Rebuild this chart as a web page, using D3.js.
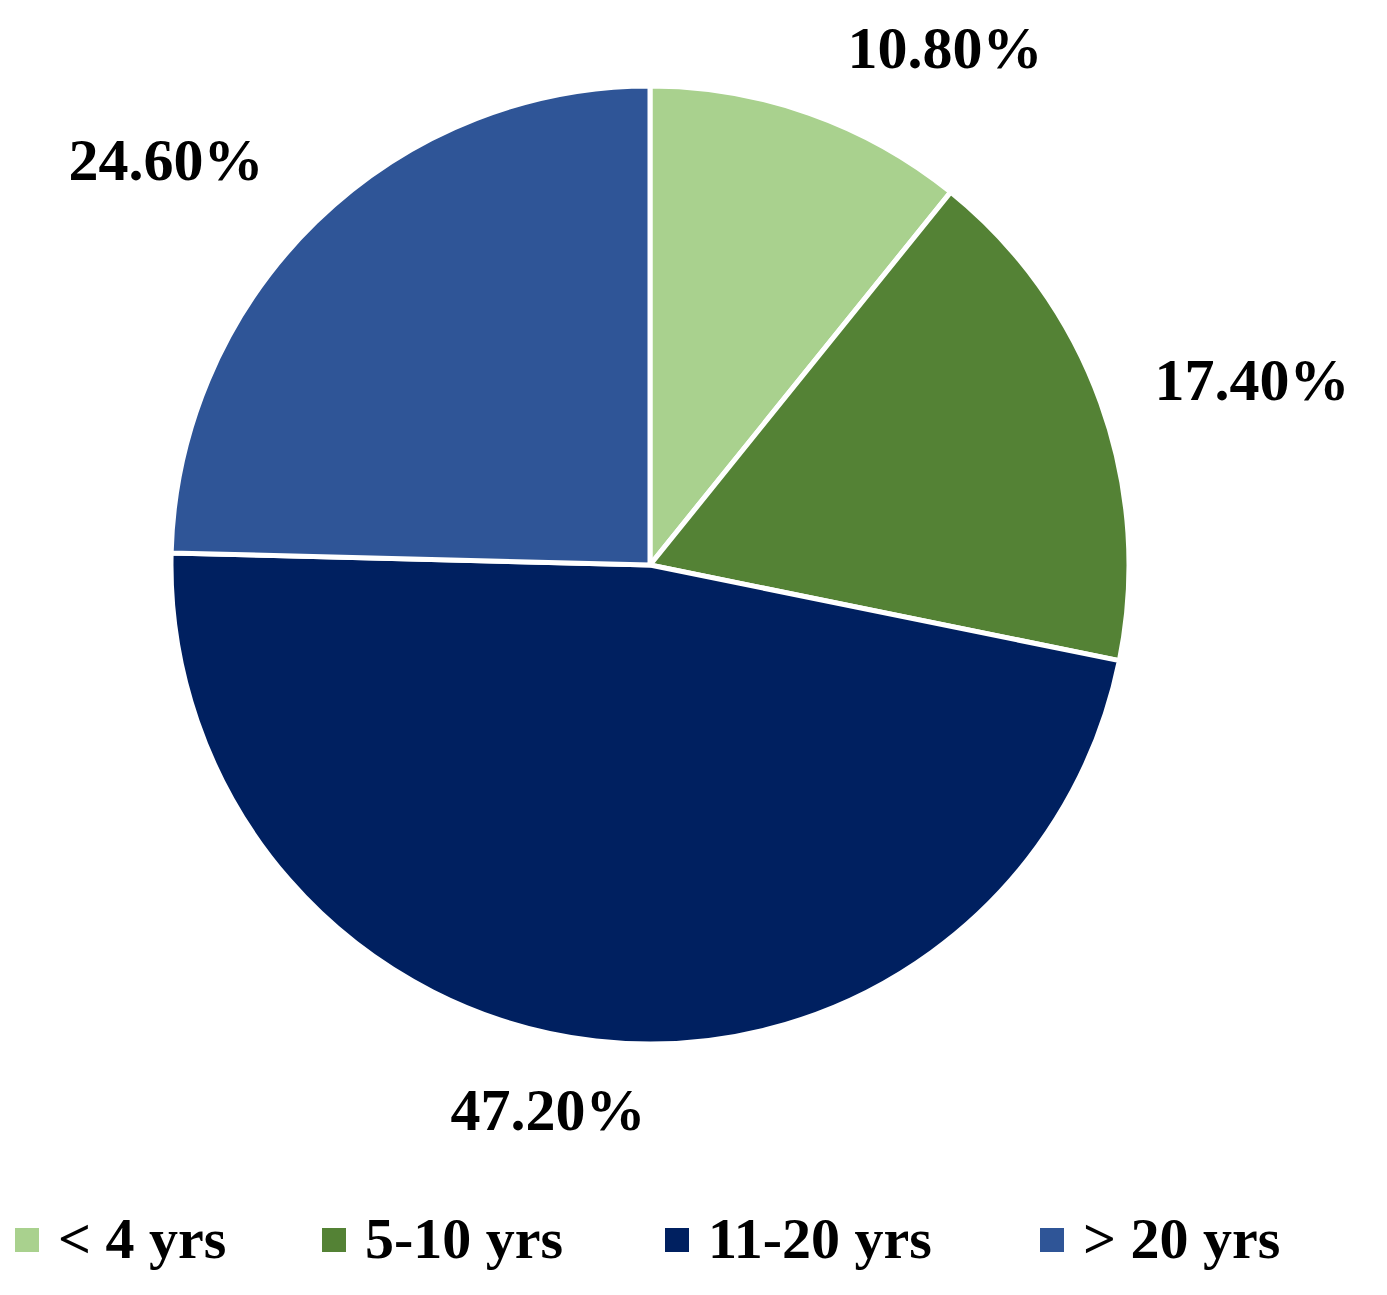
<!DOCTYPE html>
<html><head><meta charset="utf-8">
<script src="https://cdn.jsdelivr.net/npm/d3@7"></script>
<style>body{margin:0;background:#fff}</style></head>
<body><svg id="c" width="1387" height="1295"></svg>
<script>
const categories = ["< 4 yrs", "5-10 yrs", "11-20 yrs", "> 20 yrs"];
const values = [10.8, 17.4, 47.2, 24.6];
const labels = ["10.80%", "17.40%", "47.20%", "24.60%"];
const colors = ["#a9d18e", "#548235", "#002060", "#2f5597"];
// label anchor positions (layout)
const labelPos = [[945,68],[1252,400],[548,1130],[166,180]];
const legendX = [15, 322, 665, 1040];

const svg = d3.select("#c");
const cx = 650, cy = 565, R = 479;
const pie = d3.pie().sort(null).value(d => d)(values);
const arc = d3.arc().innerRadius(0).outerRadius(R);
const g = svg.append("g").attr("transform", `translate(${cx},${cy})`);
g.selectAll("path").data(pie).join("path")
  .attr("d", arc).attr("fill", (d,i) => colors[i])
  .attr("stroke", "#fff").attr("stroke-width", 5).attr("stroke-linejoin","round");

const font = "'Liberation Serif','Times New Roman',serif";
svg.selectAll("text.lbl").data(labels).join("text")
  .attr("x", (d,i) => labelPos[i][0]).attr("y", (d,i) => labelPos[i][1])
  .attr("text-anchor", "middle").attr("font-family", font)
  .attr("font-weight", "bold").attr("font-size", 60).attr("fill", "#000").text(d => d);

const lg = svg.selectAll("g.leg").data(categories).join("g")
  .attr("transform", (d,i) => `translate(${legendX[i]},1228)`);
lg.append("rect").attr("width", 24).attr("height", 24).attr("fill", (d,i) => colors[i]);
lg.append("text").attr("x", 43).attr("y", 30).attr("font-family", font)
  .attr("font-weight", "bold").attr("font-size", 58).attr("fill", "#000").text(d => d);
</script></body></html>
